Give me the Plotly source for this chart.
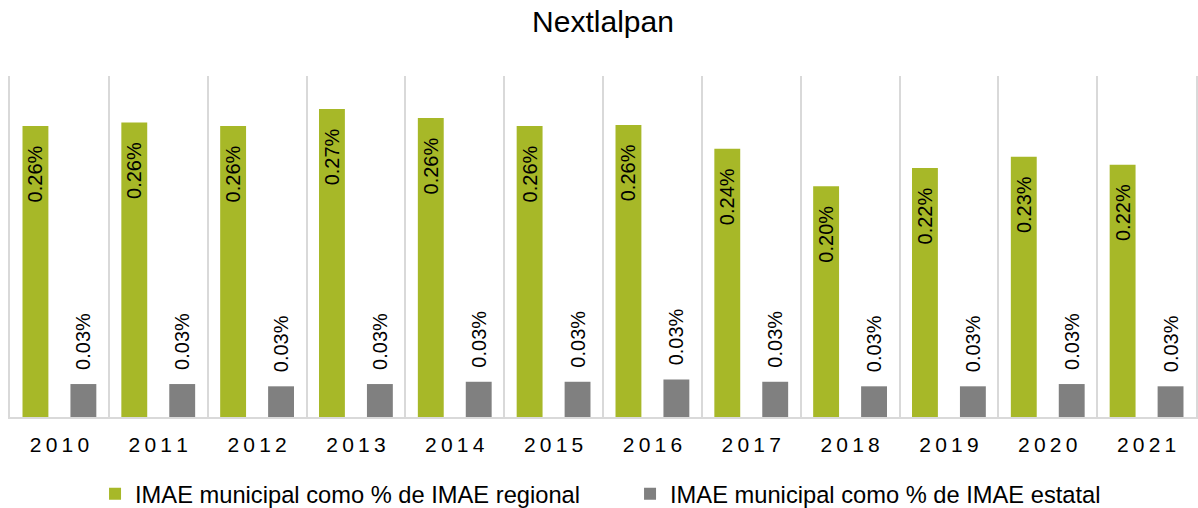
import plotly.graph_objects as go

years = ["2010", "2011", "2012", "2013", "2014", "2015", "2016", "2017", "2018", "2019", "2020", "2021"]
regional_pct = [0.256, 0.259, 0.256, 0.271, 0.263, 0.256, 0.257, 0.236, 0.203, 0.219, 0.229, 0.222]
estatal_pct = [0.029, 0.029, 0.027, 0.029, 0.031, 0.031, 0.033, 0.031, 0.027, 0.027, 0.029, 0.027]
series_names = ["IMAE municipal como % de IMAE regional", "IMAE municipal como % de IMAE estatal"]
title_text = "Nextlalpan"

GREEN = "#A7B828"
GRAY = "#808080"
FONT = "Liberation Sans, Arial, sans-serif"
NB = "\u00a0"

tick_text = ["\u2009".join(list(y)) for y in years]

fig = go.Figure()
fig.add_trace(go.Bar(
    x=years, y=regional_pct, name=series_names[0], legend="legend",
    marker=dict(color=GREEN, line=dict(width=0)),
    texttemplate="%{y:.2f}%" + NB * 3,
    textposition="inside", insidetextanchor="end", textangle=-90,
    constraintext="none",
    textfont=dict(family=FONT, size=20, color="#000000"),
    hoverinfo="skip",
))
fig.add_trace(go.Bar(
    x=years, y=estatal_pct, name=series_names[1], legend="legend2",
    marker=dict(color=GRAY, line=dict(width=0)),
    texttemplate=NB * 2 + "%{y:.2f}%",
    textposition="outside", textangle=-90,
    constraintext="none", cliponaxis=False,
    textfont=dict(family=FONT, size=20, color="#000000"),
    hoverinfo="skip",
))

legend_common = dict(orientation="h", y=-0.225, yanchor="middle", xanchor="left",
                     font=dict(family=FONT, size=23.7, color="#000000"),
                     itemclick=False, itemdoubleclick=False,
                     bgcolor="rgba(0,0,0,0)", borderwidth=0)

fig.update_layout(
    width=1198, height=508,
    margin=dict(l=10, r=2, t=76, b=91, autoexpand=False),
    paper_bgcolor="white", plot_bgcolor="white",
    barmode="group", bargap=0.03, bargroupgap=0.46,
    title=dict(text=title_text, x=0.5, xref="paper", xanchor="center",
               y=0.957, yref="container", yanchor="middle",
               font=dict(family=FONT, size=30, color="#000000")),
    font=dict(family=FONT, color="#000000"),
    showlegend=True,
    legend=dict(x=0.0717, **legend_common),
    legend2=dict(x=0.5228, **legend_common),
    xaxis=dict(type="category", tickson="boundaries", showgrid=True,
               gridcolor="#D9D9D9", gridwidth=2,
               showline=True, linecolor="#D9D9D9", linewidth=2,
               ticks="", tickvals=years, ticktext=tick_text,
               ticklabelstandoff=8,
               tickfont=dict(family=FONT, size=21, color="#000000"),
               fixedrange=True),
    yaxis=dict(range=[0, 0.3], visible=True, showticklabels=False, ticks="",
               showgrid=False, zeroline=False,
               showline=True, linecolor="#D9D9D9", linewidth=2, mirror=True,
               fixedrange=True),
)

fig.write_html("out.html",
               config={"displayModeBar": False, "staticPlot": True},
               post_script="document.body.style.margin='0';document.body.style.overflow='hidden';")
